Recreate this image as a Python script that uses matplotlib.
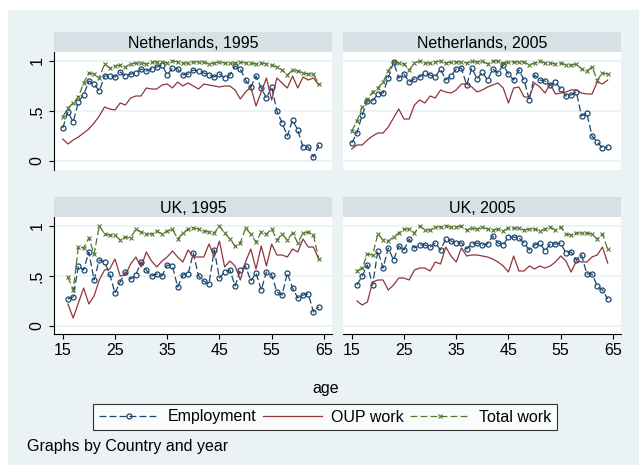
import numpy as np
import matplotlib
matplotlib.use("Agg")
import matplotlib.pyplot as plt
from matplotlib.patches import Rectangle

plt.rcParams["font.family"] = ["Liberation Sans", "DejaVu Sans"]
plt.rcParams["font.size"] = 11.5

# ages on the x axis
AGES_NL = np.arange(15, 65)
AGES_UK = np.arange(16, 65)

# Netherlands, 1995
emp_nl95 = [0.33, 0.49, 0.39, 0.59, 0.66, 0.80, 0.77, 0.70, 0.85, 0.85, 0.84, 0.89, 0.85, 0.87, 0.88, 0.92, 0.90,
            0.92, 0.94, 0.96, 0.86, 0.93, 0.92, 0.86, 0.87, 0.91, 0.90, 0.88, 0.86, 0.84, 0.87, 0.83, 0.86, 0.95,
            0.92, 0.81, 0.74, 0.85, 0.73, 0.63, 0.74, 0.50, 0.38, 0.25, 0.41, 0.31, 0.14, 0.14, 0.04, 0.16]
oup_nl95 = [0.22, 0.17, 0.21, 0.24, 0.28, 0.32, 0.38, 0.45, 0.54, 0.52, 0.51, 0.58, 0.56, 0.63, 0.65, 0.65, 0.73,
            0.72, 0.72, 0.76, 0.77, 0.73, 0.79, 0.75, 0.78, 0.75, 0.72, 0.77, 0.76, 0.75, 0.74, 0.75, 0.75, 0.71,
            0.62, 0.69, 0.74, 0.55, 0.69, 0.83, 0.61, 0.83, 0.78, 0.73, 0.85, 0.73, 0.84, 0.81, 0.83, 0.76]
tot_nl95 = [0.44, 0.53, 0.58, 0.64, 0.78, 0.88, 0.87, 0.83, 0.97, 0.93, 0.95, 0.96, 0.94, 0.97, 0.98, 0.98, 0.97,
            0.99, 0.99, 0.99, 0.98, 1.00, 0.99, 0.98, 0.98, 0.99, 0.99, 0.99, 0.97, 0.98, 0.99, 0.98, 0.98, 0.98,
            0.99, 0.98, 0.98, 0.97, 0.98, 0.97, 0.96, 0.94, 0.91, 0.86, 0.91, 0.90, 0.88, 0.87, 0.87, 0.77]

# Netherlands, 2005
emp_nl05 = [0.18, 0.28, 0.46, 0.60, 0.60, 0.67, 0.68, 0.83, 0.99, 0.83, 0.87, 0.79, 0.82, 0.84, 0.88, 0.86, 0.84,
            0.92, 0.81, 0.85, 0.92, 0.93, 0.76, 0.93, 0.82, 0.89, 0.81, 0.92, 0.88, 0.96, 0.87, 0.81, 0.91, 0.81,
            0.61, 0.86, 0.81, 0.80, 0.76, 0.79, 0.72, 0.65, 0.66, 0.69, 0.45, 0.48, 0.25, 0.19, 0.13, 0.14]
oup_nl05 = [0.12, 0.16, 0.16, 0.21, 0.25, 0.28, 0.28, 0.34, 0.43, 0.52, 0.42, 0.42, 0.56, 0.61, 0.58, 0.65, 0.63,
            0.71, 0.69, 0.68, 0.71, 0.77, 0.77, 0.74, 0.69, 0.71, 0.74, 0.76, 0.78, 0.73, 0.58, 0.73, 0.74, 0.64,
            0.64, 0.78, 0.74, 0.68, 0.77, 0.67, 0.68, 0.69, 0.71, 0.71, 0.68, 0.67, 0.67, 0.79, 0.77, 0.81]
tot_nl05 = [0.30, 0.40, 0.54, 0.62, 0.69, 0.73, 0.79, 0.90, 0.99, 0.98, 0.97, 0.91, 0.98, 1.00, 0.98, 0.98, 0.99,
            1.00, 0.98, 0.99, 0.99, 0.99, 0.98, 1.00, 0.99, 1.00, 0.97, 1.00, 1.00, 0.98, 0.99, 0.99, 0.99, 0.99,
            0.96, 0.98, 1.00, 0.98, 0.98, 0.97, 0.98, 0.96, 0.96, 0.97, 0.92, 0.90, 0.94, 0.81, 0.88, 0.87]

# UK, 1995
emp_uk95 = [0.27, 0.29, 0.60, 0.56, 0.74, 0.46, 0.66, 0.64, 0.52, 0.33, 0.44, 0.54, 0.47, 0.51, 0.64, 0.56, 0.50,
            0.52, 0.50, 0.61, 0.60, 0.39, 0.51, 0.52, 0.73, 0.50, 0.45, 0.42, 0.76, 0.48, 0.54, 0.56, 0.40, 0.56,
            0.60, 0.45, 0.53, 0.36, 0.54, 0.51, 0.34, 0.31, 0.53, 0.38, 0.28, 0.31, 0.32, 0.14, 0.19]
oup_uk95 = [0.22, 0.08, 0.23, 0.38, 0.22, 0.30, 0.46, 0.56, 0.57, 0.67, 0.50, 0.51, 0.62, 0.69, 0.59, 0.74, 0.65,
            0.59, 0.65, 0.69, 0.75, 0.69, 0.64, 0.76, 0.69, 0.69, 0.69, 0.82, 0.69, 0.85, 0.59, 0.65, 0.60, 0.46,
            0.64, 0.77, 0.57, 0.80, 0.60, 0.82, 0.71, 0.71, 0.69, 0.77, 0.74, 0.87, 0.79, 0.79, 0.67]
tot_uk95 = [0.49, 0.36, 0.79, 0.78, 0.88, 0.72, 1.00, 0.92, 0.91, 0.91, 0.86, 0.89, 0.88, 0.97, 0.94, 0.92, 0.92,
            0.95, 0.92, 0.95, 0.97, 0.87, 0.93, 0.97, 0.98, 0.97, 0.95, 0.94, 0.93, 1.00, 0.93, 0.87, 0.80, 0.83,
            0.98, 0.92, 0.84, 0.94, 0.92, 0.97, 0.86, 0.92, 0.86, 0.93, 0.83, 0.93, 0.94, 0.91, 0.67]

# UK, 2005
emp_uk05 = [0.41, 0.50, 0.61, 0.41, 0.75, 0.58, 0.78, 0.66, 0.80, 0.76, 0.87, 0.78, 0.81, 0.81, 0.79, 0.83, 0.76,
            0.87, 0.85, 0.83, 0.83, 0.77, 0.82, 0.83, 0.81, 0.82, 0.90, 0.83, 0.81, 0.89, 0.89, 0.88, 0.83, 0.76,
            0.81, 0.83, 0.75, 0.82, 0.82, 0.83, 0.73, 0.74, 0.66, 0.71, 0.52, 0.52, 0.40, 0.36, 0.27]
oup_uk05 = [0.25, 0.21, 0.24, 0.44, 0.46, 0.46, 0.36, 0.41, 0.48, 0.48, 0.46, 0.56, 0.58, 0.58, 0.55, 0.64, 0.62,
            0.79, 0.70, 0.64, 0.78, 0.70, 0.71, 0.71, 0.70, 0.69, 0.67, 0.64, 0.60, 0.54, 0.70, 0.55, 0.55, 0.60,
            0.57, 0.60, 0.58, 0.60, 0.64, 0.70, 0.65, 0.54, 0.65, 0.64, 0.64, 0.69, 0.71, 0.79, 0.63]
tot_uk05 = [0.55, 0.58, 0.72, 0.71, 0.92, 0.86, 0.85, 0.89, 0.93, 0.97, 0.97, 0.93, 1.00, 0.96, 0.96, 0.99, 0.99,
            1.00, 0.99, 0.99, 1.00, 0.96, 0.98, 0.97, 0.99, 0.97, 0.96, 0.97, 0.95, 0.98, 0.98, 0.98, 0.96, 0.97,
            0.97, 0.95, 0.97, 0.99, 0.96, 0.99, 0.92, 0.91, 0.93, 0.93, 0.93, 0.92, 0.87, 0.92, 0.77]

TITLES = ["Netherlands, 1995", "Netherlands, 2005", "UK, 1995", "UK, 2005"]
X_TICKS = [15, 25, 35, 45, 55, 65]
Y_TICKS = [0, 0.5, 1]
Y_LABELS = ["0", ".5", "1"]

BG = "#EAF2F3"
STRIP = "#D6E1E6"
NAVY = "#1A476F"
MAROON = "#90353B"
GREEN = "#55752F"

W, H = 639, 465
fig = plt.figure(figsize=(W / 100, H / 100), dpi=100, facecolor="white")
fig.patches.append(Rectangle((8 / W, 0), 1, 1 - 10 / H, transform=fig.transFigure,
                             facecolor=BG, edgecolor="none", zorder=-10))

panels = [
    (AGES_NL, emp_nl95, oup_nl95, tot_nl95, 54, 52, 170),
    (AGES_NL, emp_nl05, oup_nl05, tot_nl05, 343, 52, 170),
    (AGES_UK, emp_uk95, oup_uk95, tot_uk95, 54, 217, 334),
    (AGES_UK, emp_uk05, oup_uk05, tot_uk05, 343, 217, 334),
]
pw = 278

for i, (ages, emp, oup, tot, x0, ytop, ybot) in enumerate(panels):
    ax = fig.add_axes([x0 / W, 1 - ybot / H, pw / W, (ybot - ytop) / H])
    ax.set_facecolor("white")
    for g in Y_TICKS:
        ax.axhline(g, color=BG, lw=1.3, zorder=0)
    ax.plot(ages, emp, color=NAVY, lw=0.9, dashes=(5.5, 2.5), marker="o", ms=3.6,
            mfc="none", mec=NAVY, mew=0.9, label="Employment")
    ax.plot(ages, oup, color=MAROON, lw=0.9, label="OUP work")
    ax.plot(ages, tot, color=GREEN, lw=0.9, dashes=(5.5, 2.5), marker="x", ms=3.2,
            mec=GREEN, mew=0.8, label="Total work")
    ax.set_xlim(13.33, 66.55)
    if i < 2:
        ax.set_ylim(-0.09, 1.09)
    else:
        ax.set_ylim(-0.08, 1.09)

    left = i % 2 == 0
    bottom = i >= 2
    for s in ax.spines.values():
        s.set_visible(False)
    ax.spines["left"].set_visible(left)
    ax.spines["bottom"].set_visible(bottom)
    for s in ("left", "bottom"):
        ax.spines[s].set_linewidth(0.8)
    ax.set_xticks(X_TICKS)
    ax.set_yticks(Y_TICKS)
    ax.set_yticklabels(Y_LABELS, rotation=90, va="center")
    ax.tick_params(axis="both", length=3.6, width=0.8, pad=3, labelsize=11.5)
    ax.tick_params(axis="x", bottom=bottom, labelbottom=bottom)
    ax.tick_params(axis="y", left=left, labelleft=left)

    # panel strip
    sax = fig.add_axes([x0 / W, 1 - ytop / H, pw / W, 20 / H])
    sax.set_facecolor(STRIP)
    sax.set_xticks([])
    sax.set_yticks([])
    for s in sax.spines.values():
        s.set_visible(False)
    sax.text(0.5, 0.45, TITLES[i], ha="center", va="center", fontsize=11.5, transform=sax.transAxes)

    if i == 0:
        handles, labels = ax.get_legend_handles_labels()

fig.text(326 / W, 1 - 388 / H, "age", ha="center", va="center", fontsize=11.5)
leg = fig.legend(handles, labels, loc="center", bbox_to_anchor=(325 / W, 1 - 417 / H), ncol=3,
                 handlelength=3.75, handletextpad=0.55, columnspacing=0.4, borderpad=0.35,
                 frameon=True, fancybox=False, edgecolor="black", fontsize=11.5, markerscale=1.0)
leg.get_frame().set_linewidth(0.8)
leg.get_frame().set_facecolor("white")
fig.text(27 / W, 1 - 446 / H, "Graphs by Country and year", ha="left", va="center", fontsize=11.5)

fig.savefig("out.png", dpi=100, facecolor="white")
